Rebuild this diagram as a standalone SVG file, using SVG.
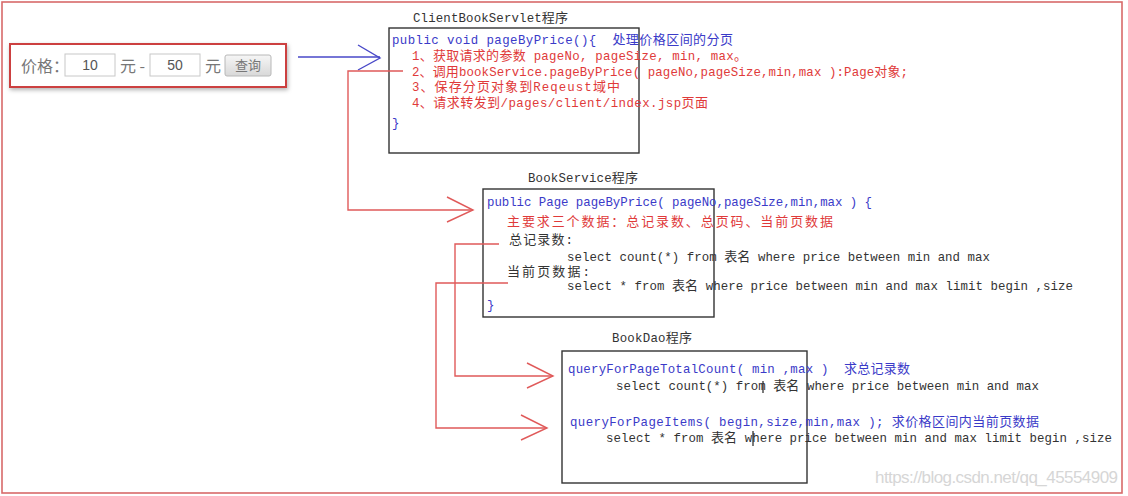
<svg xmlns="http://www.w3.org/2000/svg" width="1128" height="496" viewBox="0 0 1128 496">
<style>
.code{font-family:"Liberation Mono","Noto Sans CJK SC",monospace;font-size:12.4px}
.c{font-family:"Noto Sans CJK SC",sans-serif;font-size:13px}
.blue{fill:#3a3ac8}
.red{fill:#e03a3a}
.dark{fill:#333}
.box{fill:none;stroke:#333;stroke-width:1.4}
.rl{fill:none;stroke:#e05a5a;stroke-width:1.4}
.bl{fill:none;stroke:#4848c8;stroke-width:1.4}
.ui{font-family:"Noto Sans CJK SC","Liberation Sans",sans-serif;fill:#777}
.inp{fill:#fff;stroke:#c8c8c8;stroke-width:1}
</style>
<defs>
<marker id="ar" viewBox="-28 -15 30 30" refX="0" refY="0" markerWidth="30" markerHeight="30" markerUnits="userSpaceOnUse" orient="auto">
<path d="M-26,-13 L0,0 L-26,12" fill="none" stroke="#e05a5a" stroke-width="1.4"/>
</marker>
<marker id="ab" viewBox="-28 -15 30 30" refX="0" refY="0" markerWidth="30" markerHeight="30" markerUnits="userSpaceOnUse" orient="auto">
<path d="M-22,-12 L0,1 L-22,13" fill="none" stroke="#4848c8" stroke-width="1.4"/>
</marker>
<filter id="sh" x="-10%" y="-30%" width="120%" height="170%">
<feDropShadow dx="1" dy="2" stdDeviation="2" flood-color="#000" flood-opacity="0.3"/>
</filter>
<linearGradient id="btn" x1="0" y1="0" x2="0" y2="1">
<stop offset="0" stop-color="#f6f6f6"/>
<stop offset="1" stop-color="#d8d8d8"/>
</linearGradient>
</defs>
<rect x="0" y="0" width="1128" height="496" fill="#fff"/>
<rect id="frame" x="2" y="2" width="1120" height="491" fill="none" stroke="#d86a6a" stroke-width="1.6"/>

<g id="form">
<rect x="10" y="44" width="276" height="43" fill="#fff" stroke="#cc3f3f" stroke-width="2" filter="url(#sh)"/>
<text x="21" y="72" class="ui" font-size="16">价格：</text>
<rect x="65" y="54" width="50" height="22" class="inp"/>
<text x="90" y="70" text-anchor="middle" font-family="Liberation Sans,sans-serif" font-size="14" fill="#555">10</text>
<text x="120" y="72" class="ui" font-size="16">元 -</text>
<rect x="150" y="54" width="50" height="22" class="inp"/>
<text x="175" y="70" text-anchor="middle" font-family="Liberation Sans,sans-serif" font-size="14" fill="#555">50</text>
<text x="205" y="72" class="ui" font-size="16">元</text>
<rect x="225" y="55" width="46" height="21" rx="2" fill="url(#btn)" stroke="#b8b8b8"/>
<text x="248" y="70" text-anchor="middle" class="ui" font-size="13" fill="#555">查询</text>
</g>

<g id="servlet">
<text x="413" y="22" class="code dark" textLength="155">ClientBookServlet<tspan class="c">程序</tspan></text>
<rect x="389" y="28" width="250" height="125" class="box"/>
<text x="392" y="44" class="code blue" xml:space="preserve" textLength="341">public void pageByPrice(){  <tspan class="c">处理价格区间的分页</tspan></text>
<text x="412" y="60" class="code red" textLength="335">1<tspan class="c">、获取请求的参数</tspan> pageNo, pageSize, min, max<tspan class="c">。</tspan></text>
<text x="412" y="76" class="code red" textLength="496">2<tspan class="c">、调用</tspan>bookService.pageByPrice( pageNo,pageSize,min,max ):Page<tspan class="c">对象</tspan>;</text>
<text x="412" y="91" class="code red" textLength="208">3<tspan class="c">、保存分页对象到</tspan>Reqeust<tspan class="c">域中</tspan></text>
<text x="412" y="107" class="code red" textLength="296">4<tspan class="c">、请求转发到</tspan>/pages/client/index.jsp<tspan class="c">页面</tspan></text>
<text x="392" y="127" class="code blue">}</text>
</g>

<g id="service">
<text x="528" y="182" class="code dark" textLength="110">BookService<tspan class="c">程序</tspan></text>
<rect x="483" y="189" width="231" height="128" class="box"/>
<text x="487" y="206" class="code blue" textLength="385">public Page pageByPrice( pageNo,pageSize,min,max ) {</text>
<text x="507" y="226" class="c red" textLength="326">主要求三个数据：总记录数、总页码、当前页数据</text>
<text x="509" y="244" class="code dark" textLength="64"><tspan class="c">总记录数</tspan>:</text>
<text x="567" y="261" class="code dark" textLength="423">select count(*) from <tspan class="c">表名</tspan> where price between min and max</text>
<text x="507" y="276" class="code dark" textLength="83"><tspan class="c">当前页数据</tspan>:</text>
<text x="567" y="290" class="code dark" textLength="506">select * from <tspan class="c">表名</tspan> where price between min and max limit begin ,size</text>
<text x="487" y="309" class="code blue">}</text>
</g>

<g id="dao">
<text x="612" y="342" class="code dark" textLength="80">BookDao<tspan class="c">程序</tspan></text>
<rect x="562" y="351" width="245" height="132" class="box"/>
<text x="568" y="373" class="code blue" xml:space="preserve" textLength="342">queryForPageTotalCount( min ,max )  <tspan class="c">求总记录数</tspan></text>
<text x="616" y="390" class="code dark" textLength="423">select count(*) from <tspan class="c">表名</tspan> where price between min and max</text>
<text x="570" y="426" class="code blue" xml:space="preserve" textLength="469">queryForPageItems( begin,size,min,max ); <tspan class="c">求价格区间内当前页数据</tspan></text>
<text x="606" y="442" class="code dark" textLength="506">select * from <tspan class="c">表名</tspan> where price between min and max limit begin ,size</text>
<line x1="763" y1="381" x2="763" y2="393" stroke="#222" stroke-width="1.2"/>
<line x1="753" y1="431" x2="753" y2="446" stroke="#222" stroke-width="1.2"/>
</g>

<g id="connectors">
<path d="M298,57 H380" class="bl" marker-end="url(#ab)"/>
<path d="M403,71 H348 V210 H473" class="rl" marker-end="url(#ar)"/>
<path d="M499,244 H455 V376 H553" class="rl" marker-end="url(#ar)"/>
<path d="M508,283 H436 V428 H547" class="rl" marker-end="url(#ar)"/>
</g>

<text id="watermark" x="875" y="483" font-family="Liberation Sans,sans-serif" font-size="17" fill="#d6d6d6" textLength="243">https://blog.csdn.net/qq_45554909</text>
</svg>
